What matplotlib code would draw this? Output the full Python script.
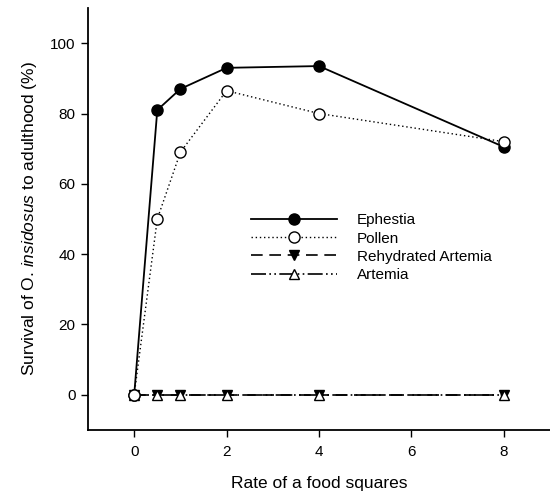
import matplotlib
matplotlib.use('Agg')
import matplotlib.pyplot as plt

plt.rcParams['font.family'] = ['Liberation Sans', 'DejaVu Sans']
plt.rcParams['mathtext.fontset'] = 'custom'
plt.rcParams['mathtext.rm'] = 'Liberation Sans'
plt.rcParams['mathtext.it'] = 'Liberation Sans:italic'

rate = [0, 0.5, 1, 2, 4, 8]
ephestia = [0, 81, 87, 93, 93.5, 70.5]
pollen = [0, 50, 69, 86.5, 80, 72]
rehydrated_artemia = [0, 0, 0, 0, 0, 0]
artemia = [0, 0, 0, 0, 0, 0]

fig = plt.figure(figsize=(5.5, 5.04), dpi=100)
ax = fig.add_axes([0.16, 0.147, 0.84, 0.837])

ax.plot(rate, ephestia, color='black', linestyle='-', linewidth=1.3,
        marker='o', markersize=8, markerfacecolor='black', label='Ephestia', zorder=4)
ax.plot(rate, pollen, color='black', linestyle=(0, (1, 2)), linewidth=1.0,
        marker='o', markersize=8, markerfacecolor='white', label='Pollen', zorder=5)
ax.plot(rate, rehydrated_artemia, color='black', linestyle=(0, (7, 4)), linewidth=1.2,
        marker='v', markersize=7.5, markerfacecolor='black', label='Rehydrated Artemia', zorder=3)
ax.plot(rate, artemia, color='black', linestyle=(0, (9, 2, 1, 2, 1, 2)), linewidth=1.2,
        marker='^', markersize=7.5, markerfacecolor='white', label='Artemia', zorder=4)

ax.set_xlim(-1, 9)
ax.set_ylim(-10, 110)
ax.set_xticks([0, 2, 4, 6, 8])
ax.set_yticks([0, 20, 40, 60, 80, 100])
ax.tick_params(direction='out', length=5, width=1, labelsize=11)
ax.tick_params(axis='y', pad=4)
ax.tick_params(axis='x', pad=6)

ax.spines['top'].set_visible(False)
ax.spines['right'].set_visible(False)
ax.spines['left'].set_linewidth(1.3)
ax.spines['bottom'].set_linewidth(1.3)

ax.set_xlabel('Rate of a food squares', fontsize=12.5, labelpad=12)
ax.set_ylabel(r'Survival of O. $\it{insidosus}$ to adulthood (%)', fontsize=12.5, labelpad=8)

ax.legend(loc='upper left', bbox_to_anchor=(0.34, 0.528), frameon=False,
          fontsize=11, handlelength=5.6, handletextpad=1.3, labelspacing=0.28,
          borderaxespad=0)

fig.savefig('out.png', dpi=100)
